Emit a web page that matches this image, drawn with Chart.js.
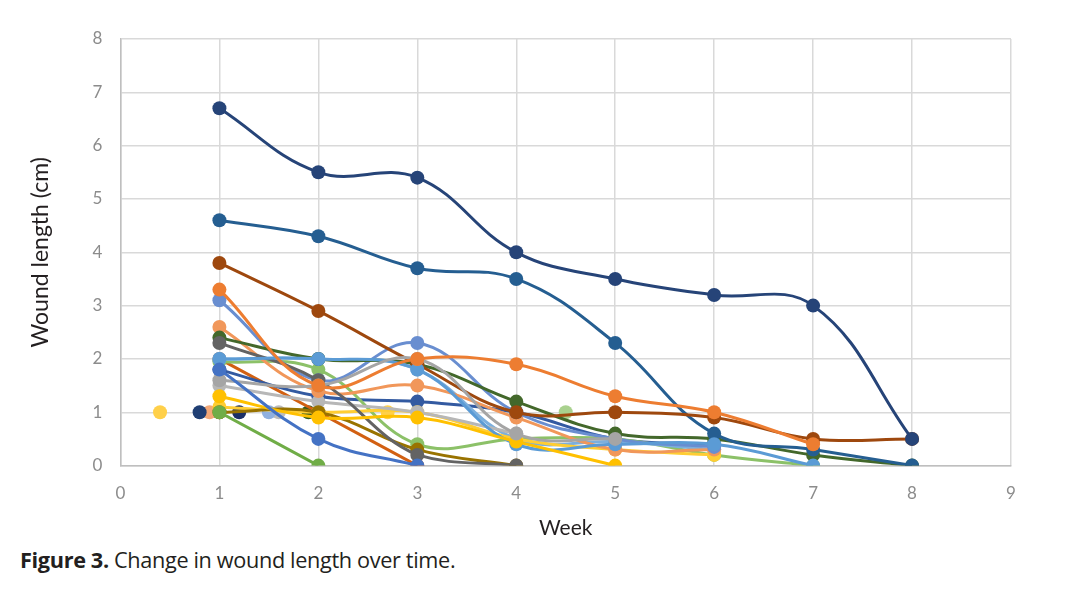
<!DOCTYPE html>
<html>
<head>
<meta charset="utf-8">
<script src="https://cdn.jsdelivr.net/npm/chart.js@4"></script>
<style>
	body { margin: 0; background: #fff; }
	#wrap { position: relative; width: 1068px; height: 543px; }
	#caption { position: absolute; left: 20px; top: 545px; font-family: "Open Sans", sans-serif; font-size: 21.7px; color: #231f20; letter-spacing: -0.35px; }
	#caption b { font-weight: 700; }
</style>
</head>
<body>
<div id="wrap"><canvas id="c"></canvas></div>
<div id="caption"><b>Figure 3.</b> Change in wound length over time.</div>
<script>
// weeks on the x axis
const weeks = [1, 2, 3, 4, 5, 6, 7, 8];
const xTicks = [0, 1, 2, 3, 4, 5, 6, 7, 8, 9];
const yTicks = [0, 1, 2, 3, 4, 5, 6, 7, 8];

// wound length (cm) per patient, one value per week (null = no reading)
const p01 = [1.8, 0.5, 0];
const p02 = [3.3, 1.5, 2.0, 1.9, 1.3, 1.0, 0.4];
const p03 = [1.6, 1.5, 2.0, 0.6, 0.5];
const p04 = [1.3, 0.9, 0.9, 0.45, 0];
const p05 = [2.0, 2.0, 1.8, 0.4, 0.4, 0.4, 0];
const p06 = [1.0, 0];
const p07 = [6.7, 5.5, 5.4, 4.0, 3.5, 3.2, 3.0, 0.5];
const p08 = [3.8, 2.9, 1.9, 1.0, 1.0, 0.9, 0.5, 0.5];
const p09 = [2.3, 1.6, 0.2, 0];
const p10 = [1.0, 1.0, 0.3, 0];
const p11 = [4.6, 4.3, 3.7, 3.5, 2.3, 0.6, 0.3, 0];
const p12 = [2.4, 2.0, 1.9, 1.2, 0.6, 0.5, 0.2, 0];
const p13 = [3.1, 1.6, 2.3, 1.0, 0.5, 0.35];
const p14 = [2.6, 1.4, 1.5, 0.9, 0.3, 0.3];
const p15 = [1.5, 1.2, 1.0, 0.6];
const p16 = [1.1, 1.0, 1.0, 0.5, 0.3, 0.2];
const p17 = [2.0, 2.0, 1.8, 0.5, 0.45, 0.3];
const p18 = [1.95, 1.8, 0.4, 0.5, 0.5, 0.2, 0];
const p19 = [1.8, 1.3, 1.2, 1.0, 0.5, 0.4];
const p20 = [2.0, 1.0, 0];
const patients = [p01, p02, p03, p04, p05, p06, p07, p08, p09, p10,
	p11, p12, p13, p14, p15, p16, p17, p18, p19, p20];

// single readings placed off the week grid
const soloWeeks = [0.4, 0.8, 0.9, 1.0, 1.2, 1.5, 1.6, 1.9, 2.0, 2.7, 4.5];
const soloLengths = [1, 1, 1, 1, 1, 1, 1, 1, 1, 1, 1];

const palette = ['#4472C4', '#ED7D31', '#A5A5A5', '#FFC000', '#5B9BD5', '#70AD47',
	'#264478', '#9E480E', '#636363', '#997300', '#255E91', '#43682B',
	'#698ED0', '#F1975A', '#B7B7B7', '#FFCD33', '#7CAFDD', '#8CC168',
	'#335AA1', '#D26012'];
const soloPalette = ['#FFD04A', '#1F3E73', '#F3A878', '#7A5E10', '#1B2F66', '#8FB0E0',
	'#BDBDBD', '#2F5A22', '#3C7DC4', '#FFD04A', '#A9D18E'];

let datasets = [];
patients.forEach(function(vals, i) {
	let pts = [];
	vals.forEach(function(v, j) {
		if (v !== null) pts.push({x: weeks[j], y: v});
	});
	datasets.push({
		label: 'Patient ' + (i + 1),
		data: pts,
		borderColor: palette[i],
		backgroundColor: palette[i],
		borderWidth: 3,
		pointRadius: 7,
		pointBorderWidth: 0,
		showLine: true,
		tension: 0.4
	});
});
soloWeeks.forEach(function(w, i) {
	datasets.push({
		label: 'Single ' + (i + 1),
		data: [{x: w, y: soloLengths[i]}],
		borderColor: soloPalette[i],
		backgroundColor: soloPalette[i],
		pointRadius: 7,
		pointBorderWidth: 0
	});
});

const tickFont = {family: 'Lato', size: 17};
new Chart(document.getElementById('c'), {
	type: 'scatter',
	data: {datasets: datasets},
	options: {
		responsive: true,
		maintainAspectRatio: false,
		animation: false,
		layout: {padding: {left: 23, right: 57, top: 39, bottom: 0}},
		plugins: {legend: {display: false}, tooltip: {enabled: false}},
		scales: {
			x: {
				type: 'linear', min: 0, max: 9,
				afterBuildTicks: function(ax) { ax.ticks = xTicks.map(function(v) { return {value: v}; }); },
				grid: {color: '#d9d9d9', lineWidth: 1.5, drawTicks: false},
				border: {color: '#bfbfbf', width: 1.5},
				ticks: {color: '#8c8c8c', font: tickFont, padding: 18},
				title: {display: true, text: 'Week', color: '#231f20', font: {family: 'Lato', size: 21, lineHeight: 0.62}, padding: {top: 0, bottom: 8}}
			},
			y: {
				min: 0, max: 8,
				afterBuildTicks: function(ax) { ax.ticks = yTicks.map(function(v) { return {value: v}; }); },
				grid: {color: '#d9d9d9', lineWidth: 1.5, drawTicks: false},
				border: {color: '#bfbfbf', width: 1.5},
				ticks: {color: '#8c8c8c', font: tickFont, padding: 18},
				title: {display: true, text: 'Wound length (cm)', color: '#231f20', font: {family: 'Lato', size: 23}, padding: {bottom: 20}}
			}
		}
	}
});
</script>
</body>
</html>
